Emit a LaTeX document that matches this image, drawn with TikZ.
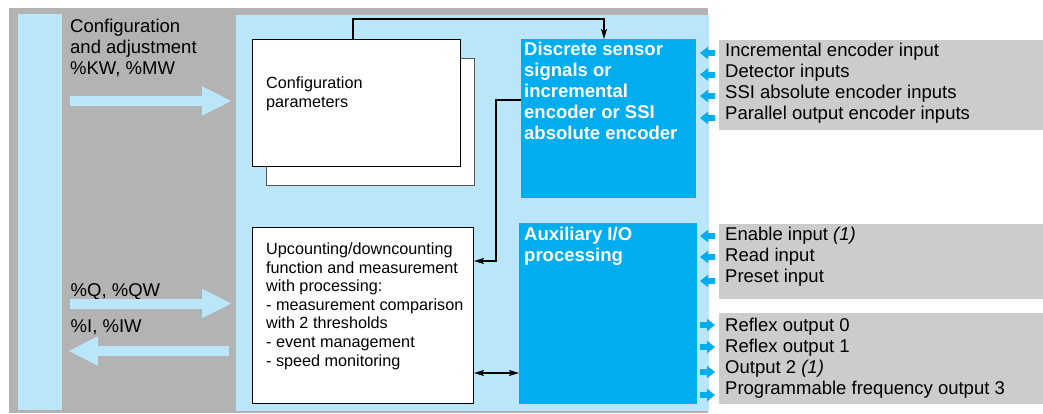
\documentclass[tikz,border=0pt]{standalone}
\usepackage{fontspec}
\setmainfont{Liberation Sans}
\usetikzlibrary{arrows.meta,calc}
\definecolor{bggray}{HTML}{B3B3B3}
\definecolor{panelblue}{HTML}{BAE6FA}
\definecolor{boxblue}{HTML}{00ADEF}
\definecolor{lblgray}{HTML}{CCCCCC}
\definecolor{backgray}{HTML}{555555}
\begin{document}
\begin{tikzpicture}[x=1pt,y=-1pt,
  wbox/.style={draw=black, fill=white, line width=1pt, inner sep=0pt, anchor=north west},
  bluebox/.style={fill=boxblue, inner sep=0pt, anchor=north west},
  bigtxt/.style={font=\fontsize{18.5}{21.2}\selectfont, align=left, inner sep=0pt, anchor=north west},
  boldtxt/.style={font=\fontsize{18.5}{21}\selectfont\bfseries, text=white, align=left, inner sep=0pt, anchor=north west},
  smalltxt/.style={font=\fontsize{16.2}{18.6}\selectfont, align=left, inner sep=0pt, anchor=north west},
  conn/.style={draw=black, line width=1.4pt, -{Stealth[length=10pt,width=6pt,inset=2pt]}},
  dconn/.style={draw=black, line width=1.4pt, {Stealth[length=10pt,width=6pt,inset=2pt]}-{Stealth[length=10pt,width=6pt,inset=2pt]}},
  bigarrow/.style={draw=panelblue, line width=10pt, -{Triangle[length=30pt,width=27pt]}},
  inarrow/.style={draw=boxblue, line width=6pt, -{Triangle[length=8pt,width=12pt]}},
]
\useasboundingbox (0,0) rectangle (1043,413);
% backgrounds
\fill[bggray] (9,8) rectangle (708,413);
\fill[panelblue] (18,14) rectangle (62,410);
\fill[panelblue] (236,15) rectangle (709,411);
\fill[lblgray] (719,40) rectangle (1043,130);
\fill[lblgray] (719,224) rectangle (1043,299);
\fill[lblgray] (719,313) rectangle (1043,404);

% boxes
\node[wbox, draw=backgray, minimum width=208pt, minimum height=127pt] (cfgback) at (266,58) {};
\node[wbox, minimum width=208pt, minimum height=127pt] (cfg) at (252,39) {};
\node[bluebox, minimum width=175pt, minimum height=159pt] (disc) at (521,39) {};
\node[bluebox, minimum width=178pt, minimum height=181pt] (aux) at (519,223) {};
\node[wbox, minimum width=221pt, minimum height=176pt] (upc) at (252,227) {};

% texts
\node[bigtxt] (lcfg) at (70,18.5) {Configuration\\and adjustment\\\%KW, \%MW};
\node[font=\fontsize{18.5}{21.2}\selectfont, inner sep=0pt, anchor=base west] (lq) at (70.5,296) {\%Q, \%QW};
\node[font=\fontsize{18.5}{21.2}\selectfont, inner sep=0pt, anchor=base west] (li) at (70.5,332) {\%I, \%IW};
\node[smalltxt] (tcfg) at (266,77) {Configuration\\parameters};
\node[smalltxt] (tupc) at (266,242.5) {Upcounting/downcounting\\function and measurement\\with processing:\\- measurement comparison\\with 2 thresholds\\- event management\\- speed monitoring};
\node[boldtxt] (tdisc) at (524,41.8) {Discrete sensor\\signals or\\incremental\\encoder or SSI\\absolute encoder};
\node[boldtxt] (taux) at (524,226.5) {Auxiliary I/O\\processing};
\node[bigtxt] (r1) at (725,42.6) {Incremental encoder input\\Detector inputs\\SSI absolute encoder inputs\\Parallel output encoder inputs};
\node[bigtxt] (r2) at (725,226.6) {Enable input \textit{(1)}\\Read input\\Preset input};
\node[bigtxt] (r3) at (725,317.6) {Reflex output 0\\Reflex output 1\\Output 2 \textit{(1)}\\Programmable frequency output 3};

% connectors
\coordinate (c1) at ([xshift=101pt]cfg.north west);
\coordinate (c2) at ([xshift=83pt]disc.north west);
\draw[conn] (c1) -- ++(0,-20) -| (c2);
\coordinate (d1) at ([yshift=-61pt]disc.north west);
\coordinate (bend) at (496,100);
\coordinate (u1) at ([yshift=-34pt]upc.north east);
\draw[conn] (d1) -- (bend) |- (u1);
\coordinate (u2) at ([yshift=-146pt]upc.north east);
\draw[dconn] (u2) -- (aux.west |- u2);

% big arrows
\coordinate (a1s) at (70,101);
\coordinate (a1e) at (cfg.west |- a1s);
\draw[bigarrow] (a1s) -- ([xshift=-20pt]a1e);
\coordinate (a2s) at (70,303.5);
\coordinate (a2e) at (upc.west |- a2s);
\draw[bigarrow] (a2s) -- ([xshift=-20pt]a2e);
\coordinate (a3s) at (229,351);
\coordinate (a3e) at (68,351);
\draw[bigarrow] (a3s) -- (a3e);

% small arrows
\foreach \yy in {53,74.5,96,118,236,257,281}{
  \draw[inarrow] (715,\yy) -- (700,\yy);
}
\foreach \yy in {325,347,372,395}{
  \draw[inarrow] (700,\yy) -- (715,\yy);
}
\end{tikzpicture}
\end{document}
